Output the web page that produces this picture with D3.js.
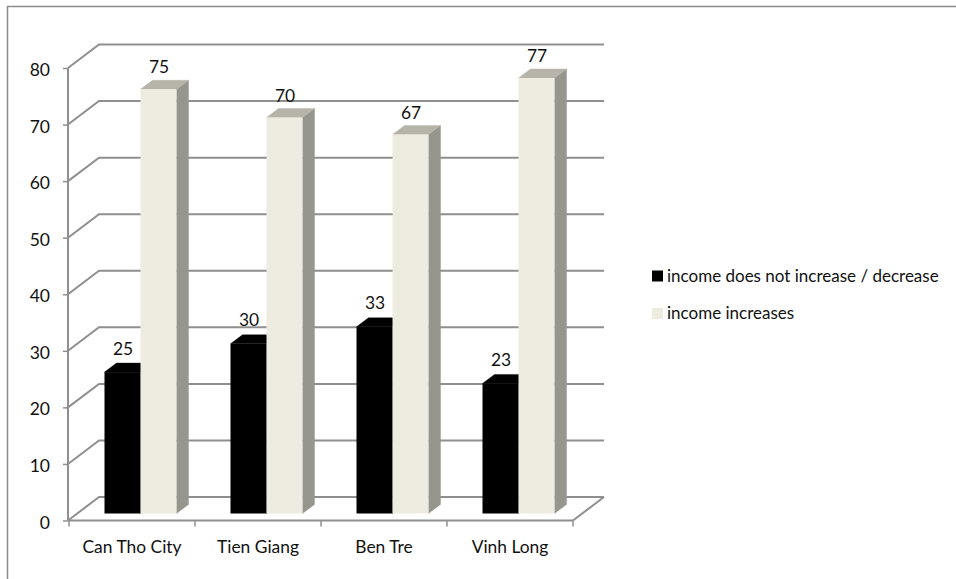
<!DOCTYPE html>
<html>
<head>
<meta charset="utf-8">
<script src="https://cdn.jsdelivr.net/npm/d3@7"></script>
<style>
  html, body { margin: 0; padding: 0; background: #fff; }
  text { font-family: Lato, "Open Sans", sans-serif; fill: #111; }
</style>
</head>
<body>
<svg id="chart" width="956" height="579"></svg>
<script>
const categories = ["Can Tho City", "Tien Giang", "Ben Tre", "Vinh Long"];
const seriesNames = ["income does not increase / decrease", "income increases"];
const noIncrease = [25, 30, 33, 23];
const increases = [75, 70, 67, 77];
const yTicks = [0, 10, 20, 30, 40, 50, 60, 70, 80];

const svg = d3.select("#chart");
const gridColor = "#8f8f8f";
const wall = { dx: 31, dy: -23.5 };       // depth of the chart box
const barInset = { dx: 36, dy: -7 };      // where bar fronts stand on the floor
const barDepth = { dx: 12, dy: -9 };      // depth of each bar
const palette = [
  { front: "#000000", top: "#000000", side: "#000000", labelGap: 8.5 },
  { front: "#eeece1", top: "#b6b3a9", side: "#96968d", labelGap: 7 }
];

const y = d3.scaleLinear().domain([0, 80]).range([520.5, 68]);
const x = d3.scaleBand().domain(categories).range([69, 573]);
const inner = d3.scaleBand().domain(d3.range(2)).range([0, 72]);

// Outer chart frame (open at the bottom and right)
svg.append("path")
  .attr("d", "M7.5,579V6.5H956")
  .attr("fill", "none").attr("stroke", "#8a8a8a").attr("stroke-width", 1.5);

// Back wall gridlines with their diagonal returns to the front axis
const grid = svg.append("g").attr("fill", "none").attr("stroke", gridColor).attr("stroke-width", 2);
yTicks.forEach(t => {
  const px = x.range()[0] - 1;
  grid.append("path")
    .attr("d", `M${px},${y(t)}L${px + wall.dx},${y(t) + wall.dy}H${x.range()[1] + wall.dx}`);
});
// Right edge of the floor
grid.append("path")
  .attr("d", `M${x.range()[1]},${y(0)}L${x.range()[1] + wall.dx},${y(0) + wall.dy}`);

// Front axes drawn through d3 axis generators
const yAxis = svg.append("g").attr("transform", "translate(68,0)")
  .call(d3.axisLeft(y).tickValues(yTicks).tickSize(5).tickPadding(13));
const xAxis = svg.append("g").attr("transform", `translate(0,${y(0)})`)
  .call(d3.axisBottom(x).tickValues([]).tickSize(0));
[yAxis, xAxis].forEach(a => {
  a.selectAll(".domain").attr("stroke", gridColor).attr("stroke-width", 2).attr("d", null);
});
yAxis.select(".domain").attr("d", `M0,${y(80)}V${y(0)}`);
xAxis.select(".domain").attr("d", `M68,0H${x.range()[1]}`);
yAxis.selectAll(".tick line").attr("stroke", gridColor).attr("stroke-width", 1.5);
yAxis.selectAll(".tick text").attr("font-size", 17.5).attr("dy", "0.43em").attr("fill", "#111").style("font-family", "Lato");

// Category ticks at the band boundaries, labels centred in each band
const bandEdges = categories.map(c => x(c)).concat(x.range()[1]);
svg.append("g").selectAll("line").data(bandEdges).join("line")
  .attr("x1", d => d).attr("x2", d => d)
  .attr("y1", y(0)).attr("y2", y(0) + 6)
  .attr("stroke", gridColor).attr("stroke-width", 1.5);
svg.append("g").selectAll("text").data(categories).join("text")
  .attr("x", d => x(d) + x.bandwidth() / 2)
  .attr("y", 553)
  .attr("text-anchor", "middle").attr("font-size", 17.4)
  .text(d => d);

// Bars: each value sets the height of a front face, top and side
const barBase = y(0) + barInset.dy;
const pxPerUnit = y(0) - y(1);
const groups = svg.append("g").selectAll("g").data(categories).join("g")
  .attr("transform", d => `translate(${x(d) + barInset.dx - 0.5},0)`);

[noIncrease, increases].forEach((values, s) => {
  const w = inner.bandwidth();
  const col = palette[s];
  groups.each(function (c, i) {
    const g = d3.select(this);
    const h = values[i] * pxPerUnit;
    const x0 = inner(s), top = barBase - h;
    // A hairline in the face colour closes the seams between faces
    g.append("path").attr("fill", col.side).attr("stroke", col.side).attr("stroke-width", 0.4)
      .attr("d", `M${x0 + w},${top}l${barDepth.dx},${barDepth.dy}V${barBase + barDepth.dy}L${x0 + w},${barBase}Z`);
    g.append("path").attr("fill", col.top).attr("stroke", col.top).attr("stroke-width", 0.4)
      .attr("d", `M${x0},${top}l${barDepth.dx},${barDepth.dy}h${w}l${-barDepth.dx},${-barDepth.dy}Z`);
    g.append("rect").attr("fill", col.front)
      .attr("x", x0).attr("y", top).attr("width", w).attr("height", h);
  });
});

// Value labels above each bar
[noIncrease, increases].forEach((values, s) => {
  groups.append("text")
    .attr("x", inner(s) + inner.bandwidth() / 2 + 0.5)
    .attr("y", (c, i) => barBase - values[i] * pxPerUnit + barDepth.dy - palette[s].labelGap)
    .attr("text-anchor", "middle").attr("font-size", 17.4)
    .text((c, i) => values[i]);
});

// Legend
const legendY = d3.scalePoint().domain(seriesNames).range([276, 313.5]);
const legend = svg.append("g").selectAll("g").data(seriesNames).join("g")
  .attr("transform", d => `translate(652,${legendY(d)})`);
legend.append("rect")
  .attr("x", 0).attr("y", -5.5).attr("width", 11).attr("height", 11)
  .attr("fill", (d, i) => palette[i].front);
legend.append("text")
  .attr("x", 15).attr("y", 5.5).attr("font-size", 17)
  .text(d => d);
</script>
</body>
</html>
